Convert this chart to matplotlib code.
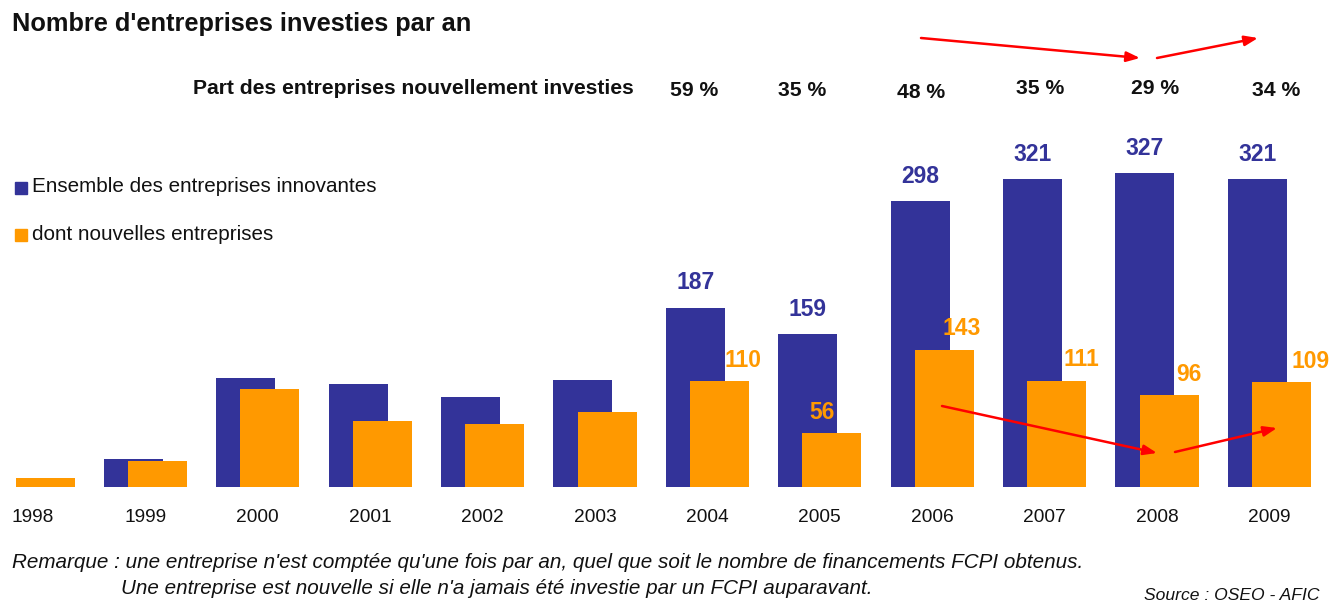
import numpy as np
import matplotlib
matplotlib.use("Agg")
import matplotlib.pyplot as plt

plt.rcParams['font.family'] = ['Liberation Sans', 'DejaVu Sans']

# data
years = ['1998', '1999', '2000', '2001', '2002', '2003', '2004', '2005', '2006', '2007', '2008', '2009']
total = [0, 29, 114, 107, 94, 112, 187, 159, 298, 321, 327, 321]
nouvelles = [9, 27, 102, 69, 66, 78, 110, 56, 143, 111, 96, 109]
labelled_years = ['2004', '2005', '2006', '2007', '2008', '2009']
part_nouvelles = ['59 %', '35 %', '48 %', '35 %', '29 %', '34 %']

blue = '#333399'
orange = '#FF9900'

W, H = 1330, 603
fig = plt.figure(figsize=(W / 100, H / 100), dpi=100)
ax = fig.add_axes([0, 0, 1, 1])
ax.set_xlim(-0.2936, 11.539)
ax.set_ylim(-120.9, 507.6)
ax.axis('off')

def fx(px):
    return px / W

def fy(py):
    return 1 - py / H

x = np.arange(len(years))
bw = 0.525
off = 0.107
tb = [v if v > 0 else np.nan for v in total]
ax.bar(x - off, tb, bw, color=blue, zorder=2)
ax.bar(x + off, nouvelles, bw, color=orange, zorder=3)

# value labels (only for labelled years)
orange_dx = [24, -10, 17, 25, 20, 29]  # px, hand placement in original
for k, yr in enumerate(labelled_years):
    i = years.index(yr)
    ax.annotate(str(total[i]), (i - off, total[i]), xytext=(0, 18),
                textcoords='offset points', ha='center', va='center',
                fontsize=16.5, fontweight='bold', color=blue)
    ax.annotate(str(nouvelles[i]), (i + off, nouvelles[i]), xytext=(orange_dx[k] * 0.72, 15),
                textcoords='offset points', ha='center', va='center',
                fontsize=16.5, fontweight='bold', color=orange)

# year labels
tr = ax.get_xaxis_transform()
for i, yr in enumerate(years):
    ax.text(i, fy(518), yr, transform=tr, ha='center', va='center', fontsize=13.8, color='#111111')

# percentage row
pct_dx = [-13, -18, -11, -4, -2, 7]
pct_y = [90, 90, 92, 89, 89, 90]
for k, yr in enumerate(labelled_years):
    i = years.index(yr)
    ax.text(i + pct_dx[k] / 112.4, fy(pct_y[k]), part_nouvelles[k], transform=tr,
            ha='center', va='center', fontsize=15.2, fontweight='bold', color='#111111')

fig.text(fx(634), fy(88), 'Part des entreprises nouvellement investies', ha='right', va='center',
         fontsize=15.2, fontweight='bold', color='#111111')

fig.text(fx(12), fy(24), "Nombre d'entreprises investies par an", ha='left', va='center',
         fontsize=18.3, fontweight='bold', color='#111111')

# legend
ax.add_patch(plt.Rectangle((fx(15), fy(194)), 12 / W, 12 / H, transform=fig.transFigure,
                           color=blue, clip_on=False))
ax.add_patch(plt.Rectangle((fx(15), fy(241)), 12 / W, 12 / H, transform=fig.transFigure,
                           color=orange, clip_on=False))
fig.text(fx(32), fy(187), 'Ensemble des entreprises innovantes', ha='left', va='center',
         fontsize=14.9, color='#111111')
fig.text(fx(32), fy(234), 'dont nouvelles entreprises', ha='left', va='center',
         fontsize=14.9, color='#111111')

# red arrows
arrows = [((921, 38), (1140, 58)), ((1157, 58), (1258, 38)),
          ((942, 406), (1157, 453)), ((1175, 452), (1277, 428))]
for (x0, y0), (x1, y1) in arrows:
    ax.annotate('', xy=(fx(x1), fy(y1)), xytext=(fx(x0), fy(y0)), xycoords='figure fraction',
                textcoords='figure fraction',
                arrowprops=dict(arrowstyle='-|>,head_length=0.8,head_width=0.3', color='#FF0000',
                                lw=1.8, shrinkA=0, shrinkB=0), zorder=5)

# notes
fig.text(fx(12), fy(563), "Remarque : une entreprise n'est comptée qu'une fois par an, quel que soit le nombre de financements FCPI obtenus.",
         ha='left', va='center', fontsize=14.9, style='italic', color='#111111')
fig.text(fx(121), fy(589), "Une entreprise est nouvelle si elle n'a jamais été investie par un FCPI auparavant.",
         ha='left', va='center', fontsize=14.9, style='italic', color='#111111')
fig.text(fx(1320), fy(596), 'Source : OSEO - AFIC', ha='right', va='center',
         fontsize=12.6, style='italic', color='#111111')

fig.savefig('out.png', dpi=100)
